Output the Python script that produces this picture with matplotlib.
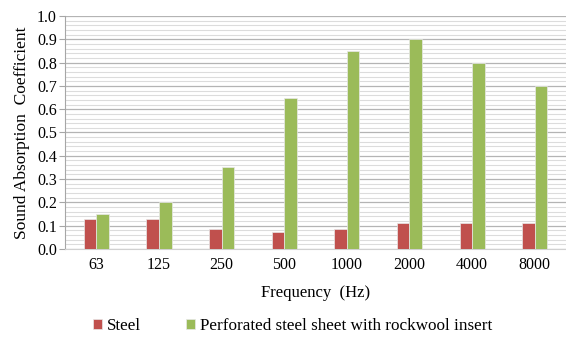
import numpy as np
import matplotlib.pyplot as plt
from matplotlib.ticker import MultipleLocator

plt.rcParams["font.family"] = ["Liberation Serif", "DejaVu Serif"]

frequencies = ["63", "125", "250", "500", "1000", "2000", "4000", "8000"]
steel = [0.13, 0.13, 0.085, 0.075, 0.085, 0.11, 0.11, 0.11]
perforated = [0.15, 0.20, 0.35, 0.65, 0.85, 0.90, 0.80, 0.70]

RED = "#C0504D"
GREEN = "#9BBB59"

fig = plt.figure(figsize=(5.66, 3.38), dpi=100)
ax = fig.add_axes([0.115, 0.263, 0.885, 0.69])

x = np.arange(len(frequencies))
width = 0.2
ax.bar(x - width / 2, steel, width, color=RED, edgecolor="#e8e8e8", linewidth=0.5,
       label="Steel", zorder=3)
ax.bar(x + width / 2, perforated, width, color=GREEN, edgecolor="#e8e8e8", linewidth=0.5,
       label="Perforated steel sheet with rockwool insert", zorder=3)

ax.set_xlim(-0.5, len(frequencies) - 0.5)
ax.set_ylim(0, 1.0)
ax.yaxis.set_minor_locator(MultipleLocator(0.02))
ax.set_yticks(np.arange(0, 1.01, 0.1))
ax.set_yticklabels([f"{v:.1f}" for v in np.arange(0, 1.01, 0.1)])
ax.set_xticks(x)
ax.set_xticklabels(frequencies)

# gridlines: darker major, lighter minor
ax.grid(which="major", axis="y", color="#b4b4b4", linewidth=0.9, zorder=0)
ax.grid(which="minor", axis="y", color="#dcdcdc", linewidth=0.8, zorder=0)

for side in ["top", "right"]:
    ax.spines[side].set_visible(False)
ax.spines["left"].set_color("#a6a6a6")
ax.spines["bottom"].set_color("#d0d0d0")
ax.tick_params(axis="y", which="major", length=4, color="#a6a6a6", labelsize=11.5, pad=2)
ax.tick_params(axis="y", which="minor", length=0)
ax.tick_params(axis="x", length=0, labelsize=11.5, pad=6)

ax.set_ylabel("Sound Absorption  Coefficient", fontsize=12.5, labelpad=5)
ax.set_xlabel("Frequency  (Hz)", fontsize=12, labelpad=8)

fig.legend(loc="center", bbox_to_anchor=(0.517, 0.035), ncol=2, frameon=False,
           fontsize=12.3, handlelength=0.55, handleheight=0.55, handletextpad=0.3,
           columnspacing=2.6)

fig.savefig("out.png", dpi=100)
